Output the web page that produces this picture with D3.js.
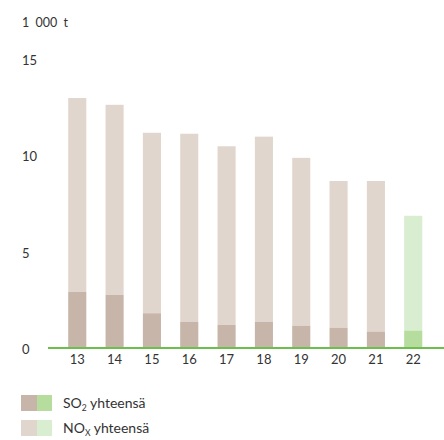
<!DOCTYPE html>
<html><head><meta charset="utf-8">
<script src="https://cdn.jsdelivr.net/npm/d3@7"></script>
<style>body{margin:0;background:#fff}svg{display:block}text{font-family:"Lato","Open Sans",sans-serif;fill:#333}</style>
</head><body><svg id="c" width="444" height="440"></svg>
<script>
const years = ["13","14","15","16","17","18","19","20","21","22"];
const so2 = [2.85, 2.7, 1.75, 1.3, 1.15, 1.3, 1.1, 1.0, 0.8, 0.85];
const total = [12.9, 12.55, 11.1, 11.05, 10.4, 10.9, 9.8, 8.6, 8.6, 6.8];
const nox = total.map((t,i)=>+(t - so2[i]).toFixed(2));
const yTicks = [0,5,10,15];
const unitLabel = "1 000 t";

const svg = d3.select("#c");
const x = d3.scaleBand().domain(years).range([58.5, 432]).paddingInner(0.515).paddingOuter(0.26);
const y = d3.scaleLinear().domain([0,15]).range([347, 57.5]);
const brown = {so2:"#c8b5a9", nox:"#e0d6ce"};
const green = {so2:"#b6dc9e", nox:"#d9edd0"};
const col = (i,k)=> (i===years.length-1 ? green : brown)[k];

const g = svg.append("g");
years.forEach((yr,i)=>{
  g.append("rect").attr("x", x(yr)).attr("width", x.bandwidth())
    .attr("y", y(so2[i]+nox[i])).attr("height", y(so2[i]) - y(so2[i]+nox[i]))
    .attr("fill", col(i,"nox"));
  g.append("rect").attr("x", x(yr)).attr("width", x.bandwidth())
    .attr("y", y(so2[i])).attr("height", y(0)-y(so2[i]))
    .attr("fill", col(i,"so2"));
});

// y axis labels
const ya = svg.append("g").attr("transform","translate(22,0)")
  .call(d3.axisLeft(y).tickValues(yTicks).tickSize(0).tickPadding(0));
ya.select(".domain").remove();
ya.selectAll("text").attr("text-anchor","start").attr("dy","0.5em").style("font-size","13px").style("font-family",'"Lato","Open Sans",sans-serif').attr("fill","#333");

svg.append("text").attr("x",22).attr("y",27).style("font-size","12.5px").style("word-spacing","3px").text(unitLabel);

// x axis
const xa = svg.append("g").attr("transform",`translate(0,${y(0)})`)
  .call(d3.axisBottom(x).tickSize(0).tickPadding(8));
xa.select(".domain").remove();
xa.selectAll("text").style("font-size","13px").style("font-family",'"Lato","Open Sans",sans-serif').attr("fill","#333");
svg.append("line").attr("x1",48).attr("x2",444).attr("y1",y(0)+1).attr("y2",y(0)+1)
  .attr("stroke","#6cbf4c").attr("stroke-width",2);

// legend
const legend = [
  {sub:"2", base:"SO", rest:" yhteensä", k:"so2", y:395},
  {sub:"X", base:"NO", rest:" yhteensä", k:"nox", y:420}
];
legend.forEach(l=>{
  svg.append("rect").attr("x",21).attr("y",l.y).attr("width",16).attr("height",16).attr("fill",brown[l.k]);
  svg.append("rect").attr("x",37).attr("y",l.y).attr("width",15).attr("height",16).attr("fill",green[l.k]);
  const t = svg.append("text").attr("x",63).attr("y",l.y+13).style("font-size","14px");
  t.append("tspan").text(l.base);
  t.append("tspan").attr("dy",3).style("font-size","8.5px").text(l.sub);
  t.append("tspan").attr("dy",-3).text(l.rest);
});
</script></body></html>
